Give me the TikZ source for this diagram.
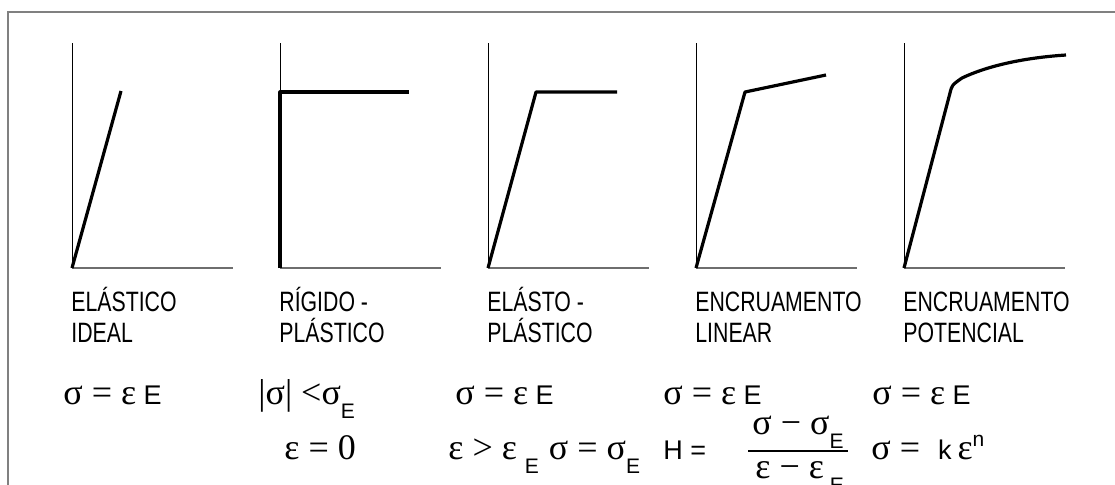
\documentclass[tikz,border=0pt]{standalone}
\usepackage{fontspec}
\setmainfont{Liberation Sans}
\newfontfamily\narrowfont[FakeStretch=0.76]{Liberation Sans}
\newfontfamily\grfont{Liberation Serif}
\usetikzlibrary{positioning}
\definecolor{framegray}{RGB}{128,128,128}
\definecolor{axisgray}{RGB}{110,110,110}
\newcommand{\gk}[1]{{\grfont\fontsize{18}{18}\selectfont #1}}
\newcommand{\lowE}{\raisebox{-7pt}{\fontsize{10.5}{10.5}\selectfont E}}
\newcommand{\supn}{\raisebox{6.5pt}{\fontsize{10.5}{10.5}\selectfont n}}

\begin{document}
\begin{tikzpicture}[x=0.5pt, y=-0.5pt,
    frame/.style={draw=framegray, line width=0.75pt},
    yaxis/.style={black, line width=0.5pt},
    xaxis/.style={axisgray, line width=0.8pt},
    curve/.style={line width=1.6pt, line join=round},
    fracbar/.style={line width=0.8pt},
    lbl/.style={inner sep=0pt, anchor=base west, align=left,
                font=\narrowfont\fontsize{14}{13.5}\selectfont},
    eq/.style={inner sep=0pt, anchor=base west, font=\fontsize{13.5}{15}\selectfont}
  ]
    \useasboundingbox (0,0) rectangle (1115,484);
    \fill[white] (0,0) rectangle (1115,484);
    \draw[frame] (8,490) -- (8,12) -- (1120,12);

    % axes
    \foreach \x [count=\i] in {72,280,488,696,904} {
      \coordinate (o\i) at (\x,268);
      \draw[yaxis] (\x,43) -- (o\i);
      \draw[xaxis] (o\i) -- ++(161,0);
    }

    % curves
    \draw[curve] (o1) -- (121,91);
    \draw[curve] (o2) -- (280,92) -- (409,92);
    \draw[curve] (o3) -- (536,92) -- (617,92);
    \draw[curve] (o4) -- (745,92) -- (826,75);
    \draw[curve] (o5) -- (950,93) .. controls (952,85) .. (962,78)
                 .. controls (985,67) and (1020,58) .. (1066,55);

    % labels (base = last line)
    \node[lbl] (lab1) at (71,342) {ELÁSTICO\\[2pt]IDEAL};
    \node[lbl] (lab2) at (279,342) {RÍGIDO -\\[2pt]PLÁSTICO};
    \node[lbl] (lab3) at (487,342) {ELÁSTO -\\[2pt]PLÁSTICO};
    \node[lbl] (lab4) at (695,342) {ENCRUAMENTO\\[2pt]LINEAR};
    \node[lbl] (lab5) at (903,342) {ENCRUAMENTO\\[2pt]POTENCIAL};

    % laws
    \node[eq] (law1) at (63,404) {\gk{σ = ε} E};
    \node[eq] (law2) at (258,404) {\gk{|σ| <σ}\lowE};
    \node[eq] (law3) at (455,404) {\gk{σ = ε} E};
    \node[eq] (law4) at (663,404) {\gk{σ = ε} E};
    \node[eq] (law5) at (872,404) {\gk{σ = ε} E};
    \node[eq] (cond2) at (284,459) {\gk{ε = 0}};
    \node[eq] (cond3) at (448,459) {\gk{ε > ε}\hspace{4pt}\lowE\hspace{5pt}\gk{σ = σ}\lowE};
    \node[eq] (hard4) at (663,459) {H =};
    \node[eq] (num4) at (752,434) {\gk{σ − σ}\lowE};
    \node[eq] (den4) at (755,478) {\gk{ε − ε}\hspace{3pt}\lowE};
    \draw[fracbar] (748,451) -- (848,451);
    \node[eq] (pow5) at (871,459) {\gk{σ =}\hspace{9pt}k\hspace{3pt}\gk{ε}\supn};
  \end{tikzpicture}
\end{document}
